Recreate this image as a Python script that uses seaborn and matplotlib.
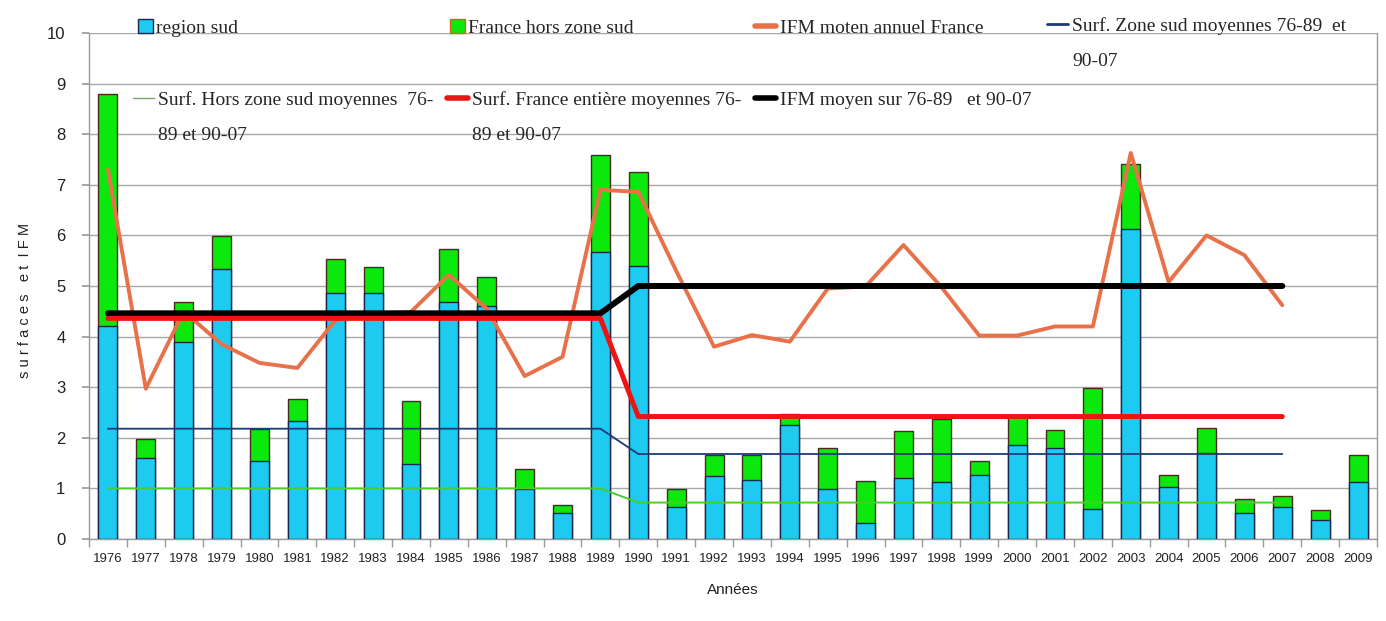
import numpy as np
import pandas as pd
import matplotlib
matplotlib.use('Agg')  # headless
import matplotlib.pyplot as plt
import seaborn as sns
from matplotlib.lines import Line2D
from matplotlib.patches import Patch

# --- data ---
years = list(range(1976, 2010))
region_sud = [4.20, 1.61, 3.90, 5.34, 1.54, 2.33, 4.86, 4.86, 1.48, 4.68,
              4.60, 0.99, 0.52, 5.68, 5.40, 0.64, 1.25, 1.17, 2.25, 0.99,
              0.31, 1.20, 1.12, 1.27, 1.86, 1.79, 0.59, 6.13, 1.02, 1.70,
              0.52, 0.64, 0.38, 1.12]
hors_zone_sud = [4.60, 0.37, 0.78, 0.65, 0.64, 0.43, 0.67, 0.51, 1.25, 1.05,
                 0.58, 0.39, 0.15, 1.91, 1.86, 0.35, 0.41, 0.49, 0.23, 0.81,
                 0.84, 0.93, 1.25, 0.27, 0.56, 0.36, 2.40, 1.29, 0.24, 0.49,
                 0.27, 0.21, 0.19, 0.54]

ifm_years = list(range(1976, 2008))
ifm_annuel = [7.30, 2.97, 4.50, 3.85, 3.48, 3.38, 4.32, 4.45, 4.49, 5.22,
              4.55, 3.22, 3.60, 6.90, 6.86, 5.30, 3.80, 4.03, 3.90, 4.95,
              4.99, 5.81, 4.98, 4.02, 4.02, 4.20, 4.20, 7.63, 5.08, 6.00,
              5.61, 4.62]

# period averages 76-89 and 90-07 (start/end of each period)
period_years = [1976, 1989, 1990, 2007]
moy_zone_sud = [2.18, 2.18, 1.68, 1.68]
moy_hors_zone = [1.00, 1.00, 0.72, 0.72]
moy_france = [4.36, 4.36, 2.42, 2.42]
moy_ifm = [4.46, 4.46, 5.00, 5.00]

C_BLUE = '#1ecbf0'
C_GREEN = '#0be80b'
C_IFM = '#e8714a'
C_NAVY = '#1d3a78'
C_LGREEN = '#4ccc2a'
C_RED = '#ee1414'
GRID = '#a8a8a8'

SANS = ['Liberation Sans', 'DejaVu Sans']
SERIF = ['Liberation Serif', 'DejaVu Serif']

sns.set_theme(style="white")

W, H = 1386, 621
fig = plt.figure(figsize=(W / 100, H / 100), dpi=100)
ax = fig.add_axes([89 / W, 1 - 539 / H, (1377 - 89) / W, (539 - 33) / H])

bars = pd.DataFrame({'annee': [str(y) for y in years],
                     'region': region_sud, 'hors': hors_zone_sud})
bars['total'] = bars['region'] + bars['hors']
pos = {y: i for i, y in enumerate(years)}

sns.barplot(data=bars, x='annee', y='total', color=C_GREEN, saturation=1,
            width=0.5, edgecolor='#4a2a20', linewidth=1, ax=ax, zorder=2)
sns.barplot(data=bars, x='annee', y='region', color=C_BLUE, saturation=1,
            width=0.5, edgecolor='#1a2450', linewidth=1, ax=ax, zorder=3)

def step_df(vals):
    return pd.DataFrame({'x': [pos[y] for y in period_years], 'y': vals})

ifm = pd.DataFrame({'x': [pos[y] for y in ifm_years], 'y': ifm_annuel})

sns.lineplot(data=step_df(moy_hors_zone), x='x', y='y', color=C_LGREEN,
             lw=1.4, ax=ax, zorder=4)
sns.lineplot(data=step_df(moy_zone_sud), x='x', y='y', color=C_NAVY,
             lw=1.3, ax=ax, zorder=4)
sns.lineplot(data=ifm, x='x', y='y', color=C_IFM, lw=2.8, ax=ax, zorder=5)
sns.lineplot(data=step_df(moy_ifm), x='x', y='y', color='black',
             lw=4.3, ax=ax, zorder=6)
sns.lineplot(data=step_df(moy_france), x='x', y='y', color=C_RED,
             lw=3.6, ax=ax, zorder=6)

ax.set_xlim(-0.5, len(years) - 0.5)
ax.set_ylim(0, 10)
ax.set_yticks(range(0, 11))
ax.set_xticks(range(len(years)))
ax.set_xticklabels([str(y) for y in years], family=SANS, fontsize=9.5)
ax.set_yticklabels([str(v) for v in range(0, 11)], family=SANS, fontsize=12)
ax.set_xticks(np.arange(-0.5, len(years), 1.0), minor=True)
ax.tick_params(axis='x', which='major', length=0, pad=10, colors='#222222')
ax.tick_params(axis='x', which='minor', length=6, color='#999999',
               direction='out', bottom=True)
ax.tick_params(axis='y', length=5, color='#999999', direction='out',
               left=True, pad=12, colors='#222222')
ax.yaxis.grid(True, color=GRID, lw=1)
ax.xaxis.grid(False)
ax.set_axisbelow(True)
for s in ['left', 'bottom', 'right']:
    ax.spines[s].set_color('#9a9a9a')
    ax.spines[s].set_linewidth(1)
ax.spines['top'].set_visible(False)
ax.set_xlabel('')
ax.set_ylabel('')

fig.text(733 / W, 1 - 590 / H, 'Années', family=SANS, fontsize=11,
         ha='center', va='center', color='#222222')
fig.text(25 / W, 1 - 300 / H, 's u r f a c e s   e t  I F M', family=SANS,
         fontsize=10.5, rotation=90, ha='center', va='center', color='#222222')

# --- legend, laid out as in the reference (two rows, four columns) ---
FS = 14
fs_px = FS * 100 / 72
entries = [
    (Patch(facecolor=C_BLUE, edgecolor='#1a2450'), 'region sud', None, 138, 28),
    (Patch(facecolor=C_GREEN, edgecolor='#e0601a'), 'France hors zone sud', None, 450, 28),
    (Line2D([], [], color=C_IFM, lw=4), 'IFM moten annuel France', None, 755, 28),
    (Line2D([], [], color=C_NAVY, lw=2), 'Surf. Zone sud moyennes 76-89  et', '90-07', 1047, 26),
    (Line2D([], [], color='#7aa86a', lw=1), 'Surf. Hors zone sud moyennes  76-', '89 et 90-07', 133, 100),
    (Line2D([], [], color=C_RED, lw=4), 'Surf. France entière moyennes 76-', '89 et 90-07', 447, 100),
    (Line2D([], [], color='black', lw=4), 'IFM moyen sur 76-89   et 90-07', None, 755, 100),
]
for handle, first, second, x, y in entries:
    hl = 0.75 if isinstance(handle, Patch) else 1.1
    fig.legend(handles=[handle], labels=[first], loc='center left',
               bbox_to_anchor=(x / W, 1 - y / H), frameon=False,
               borderpad=0, borderaxespad=0, handlelength=hl,
               handletextpad=0.2, prop={'family': SERIF, 'size': FS})
    if second:
        tx = x + (hl + 0.2) * fs_px
        fig.text(tx / W, 1 - (y + 36) / H, second, family=SERIF, fontsize=FS,
                 ha='left', va='center')

fig.savefig('out.png', dpi=100)
